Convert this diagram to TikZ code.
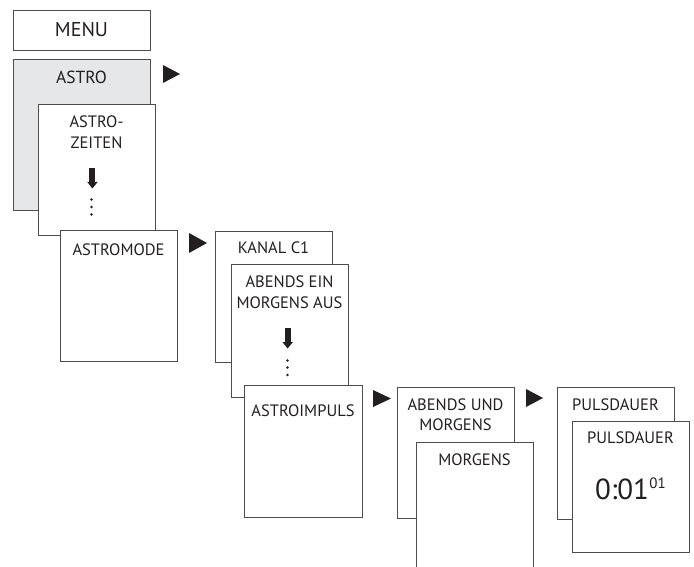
\documentclass[tikz,border=0pt]{standalone}
\usepackage{fontspec}
\setmainfont{PT Sans}
\definecolor{boxline}{HTML}{4D4D4F}
\definecolor{astrogrey}{HTML}{E6E7E8}
\definecolor{ink}{HTML}{231F20}
\begin{document}
\begin{tikzpicture}[x=1pt,y=-1pt,
  panel/.style={draw=boxline, line width=0.9pt, fill=white, inner sep=0pt, outer sep=0pt, anchor=north west},
  txt/.style={anchor=base, inner sep=0pt, text=ink, font=\fontsize{16.5}{20}\selectfont},
  tri/.style={fill=ink, draw=none},
  dot/.style={fill=ink, draw=none}]
\useasboundingbox (0,0) rectangle (694,567);
\clip (0,0) rectangle (694,567);
% MENU
\node[panel, minimum width=137, minimum height=40] (menu) at (13,10) {};
\node[txt, font=\fontsize{20}{24}\selectfont] (tmenu) at (81.5,37) {MENU};
% ASTRO column
\node[panel, fill=astrogrey, minimum width=137, minimum height=151] (astro) at (13,59) {};
\node[txt, font=\fontsize{17.5}{21}\selectfont] (tastro) at (81.5,84) {ASTRO};
\fill[tri] (163,65) -- (180,74) -- (163,83) -- cycle;
\node[panel, minimum width=117, minimum height=131] (zeiten) at (38,104) {};
\node[txt] (tz1) at (96.5,128) {ASTRO-};
\node[txt] (tz2) at (96.5,149) {ZEITEN};
\fill[ink] (89.3,168) rectangle (95.3,182.5);
\fill[ink] (87.3,182) -- (97.7,182) -- (92.3,188.5) -- cycle;
\fill[dot] (91.5,199.5) circle (1.3);
\fill[dot] (91.5,207) circle (1.3);
\fill[dot] (91.5,214.5) circle (1.3);
\node[panel, minimum width=117, minimum height=131] (astromode) at (60,230) {};
\node[txt] (tam) at (118.5,255) {ASTROMODE};
\fill[tri] (189,233) -- (207,243) -- (189,253) -- cycle;
% KANAL column
\node[panel, minimum width=117, minimum height=131] (kanal) at (215,231) {};
\node[txt] (tk) at (273.5,253) {KANAL C1};
\node[panel, minimum width=117, minimum height=133] (abends) at (231,264) {};
\node[txt] (ta1) at (289.5,287) {ABENDS EIN};
\node[txt] (ta2) at (289.5,308) {MORGENS AUS};
\fill[ink] (284.5,328) rectangle (290.8,342.5);
\fill[ink] (282.3,342) -- (293,342) -- (287.6,348.5) -- cycle;
\fill[dot] (287.5,360.5) circle (1.3);
\fill[dot] (287.5,367.5) circle (1.3);
\fill[dot] (287.5,375) circle (1.3);
\node[panel, minimum width=118, minimum height=132] (impuls) at (244,385) {};
\node[txt] (ti) at (303,416) {ASTROIMPULS};
\fill[tri] (373,390) -- (391,398.5) -- (373,407) -- cycle;
% ABENDS UND MORGENS column
\node[panel, minimum width=117, minimum height=131] (undm) at (397,387) {};
\node[txt] (tu1) at (455.5,410) {ABENDS UND};
\node[txt] (tu2) at (455.5,430) {MORGENS};
\node[panel, minimum width=117, minimum height=140] (morgens) at (416,442) {};
\node[txt] (tm) at (474.5,465) {MORGENS};
\fill[tri] (526,389) -- (543,398) -- (526,407) -- cycle;
% PULSDAUER column
\node[panel, minimum width=117, minimum height=132] (puls1) at (557,387) {};
\node[txt] (tp1) at (615.5,410) {PULSDAUER};
\node[panel, minimum width=117, minimum height=131] (puls2) at (572,421) {};
\node[txt] (tp2) at (630.5,443) {PULSDAUER};
\node[txt, font=\fontsize{29}{32}\selectfont] (tval) at (630.5,499) {0:01\kern0.5pt\raisebox{11pt}{\fontsize{15}{17}\selectfont 01}};
\end{tikzpicture}
\end{document}
